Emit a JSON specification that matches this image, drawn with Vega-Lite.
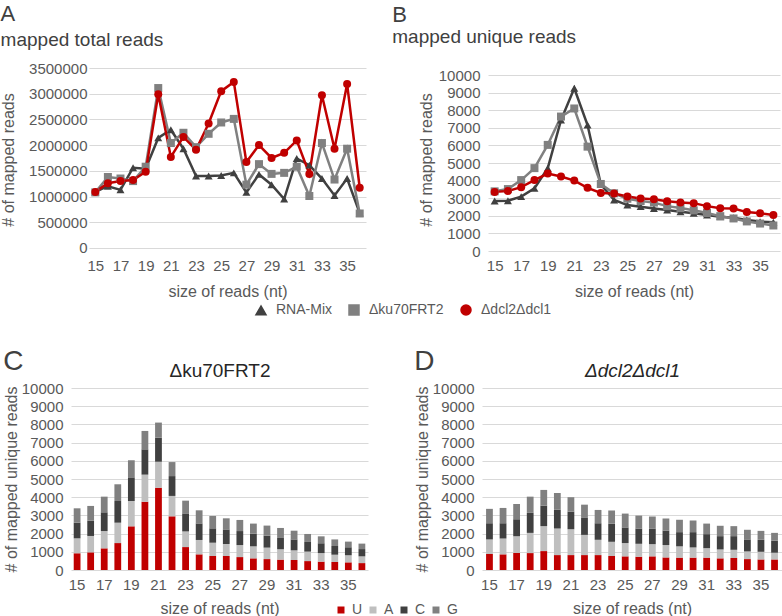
{
  "$schema": "https://vega.github.io/schema/vega-lite/v6.json",
  "padding": {"left": 0, "top": 3, "right": 0, "bottom": 0},
  "background": "white",
  "config": {
    "font": "Liberation Sans",
    "view": {"stroke": null},
    "axis": {"labelColor": "#595959", "titleColor": "#595959", "titleFontWeight": "normal", "labelFontSize": 15, "titleFontSize": 16, "ticks": false, "tickSize": 0, "domain": false, "gridColor": "#D9D9D9", "gridWidth": 1, "labelOverlap": false},
    "axisX": {"grid": false, "labelAngle": 0, "labelPadding": 7, "titlePadding": 10},
    "title": {"fontWeight": "normal", "color": "#404040", "subtitleColor": "#404040"},
    "legend": {"labelColor": "#595959", "padding": 0}
  },
  "datasets": {
    "lines": [
      {"panel": "total", "size": 15, "RNA-Mix": 1090000, "Δku70FRT2": 1080000, "Δdcl2Δdcl1": 1090000},
      {"panel": "total", "size": 16, "RNA-Mix": 1200000, "Δku70FRT2": 1380000, "Δdcl2Δdcl1": 1260000},
      {"panel": "total", "size": 17, "RNA-Mix": 1130000, "Δku70FRT2": 1350000, "Δdcl2Δdcl1": 1300000},
      {"panel": "total", "size": 18, "RNA-Mix": 1560000, "Δku70FRT2": 1300000, "Δdcl2Δdcl1": 1320000},
      {"panel": "total", "size": 19, "RNA-Mix": 1540000, "Δku70FRT2": 1580000, "Δdcl2Δdcl1": 1480000},
      {"panel": "total", "size": 20, "RNA-Mix": 2140000, "Δku70FRT2": 3110000, "Δdcl2Δdcl1": 2990000},
      {"panel": "total", "size": 21, "RNA-Mix": 2300000, "Δku70FRT2": 2040000, "Δdcl2Δdcl1": 1770000},
      {"panel": "total", "size": 22, "RNA-Mix": 1930000, "Δku70FRT2": 2240000, "Δdcl2Δdcl1": 2160000},
      {"panel": "total", "size": 23, "RNA-Mix": 1400000, "Δku70FRT2": 1960000, "Δdcl2Δdcl1": 1910000},
      {"panel": "total", "size": 24, "RNA-Mix": 1400000, "Δku70FRT2": 2220000, "Δdcl2Δdcl1": 2420000},
      {"panel": "total", "size": 25, "RNA-Mix": 1410000, "Δku70FRT2": 2440000, "Δdcl2Δdcl1": 3050000},
      {"panel": "total", "size": 26, "RNA-Mix": 1460000, "Δku70FRT2": 2510000, "Δdcl2Δdcl1": 3230000},
      {"panel": "total", "size": 27, "RNA-Mix": 1080000, "Δku70FRT2": 1230000, "Δdcl2Δdcl1": 1670000},
      {"panel": "total", "size": 28, "RNA-Mix": 1430000, "Δku70FRT2": 1630000, "Δdcl2Δdcl1": 2000000},
      {"panel": "total", "size": 29, "RNA-Mix": 1230000, "Δku70FRT2": 1440000, "Δdcl2Δdcl1": 1750000},
      {"panel": "total", "size": 30, "RNA-Mix": 950000, "Δku70FRT2": 1460000, "Δdcl2Δdcl1": 1850000},
      {"panel": "total", "size": 31, "RNA-Mix": 1740000, "Δku70FRT2": 1580000, "Δdcl2Δdcl1": 2090000},
      {"panel": "total", "size": 32, "RNA-Mix": 1610000, "Δku70FRT2": 1010000, "Δdcl2Δdcl1": 1440000},
      {"panel": "total", "size": 33, "RNA-Mix": 1350000, "Δku70FRT2": 2040000, "Δdcl2Δdcl1": 2970000},
      {"panel": "total", "size": 34, "RNA-Mix": 1020000, "Δku70FRT2": 1330000, "Δdcl2Δdcl1": 1930000},
      {"panel": "total", "size": 35, "RNA-Mix": 1350000, "Δku70FRT2": 1930000, "Δdcl2Δdcl1": 3190000},
      {"panel": "total", "size": 36, "RNA-Mix": 680000, "Δku70FRT2": 670000, "Δdcl2Δdcl1": 1170000},
      {"panel": "unique", "size": 15, "RNA-Mix": 2840, "Δku70FRT2": 3390, "Δdcl2Δdcl1": 3360},
      {"panel": "unique", "size": 16, "RNA-Mix": 2860, "Δku70FRT2": 3520, "Δdcl2Δdcl1": 3410},
      {"panel": "unique", "size": 17, "RNA-Mix": 3090, "Δku70FRT2": 4030, "Δdcl2Δdcl1": 3630},
      {"panel": "unique", "size": 18, "RNA-Mix": 3560, "Δku70FRT2": 4710, "Δdcl2Δdcl1": 4030},
      {"panel": "unique", "size": 19, "RNA-Mix": 4700, "Δku70FRT2": 6030, "Δdcl2Δdcl1": 4400},
      {"panel": "unique", "size": 20, "RNA-Mix": 7440, "Δku70FRT2": 7640, "Δdcl2Δdcl1": 4230},
      {"panel": "unique", "size": 21, "RNA-Mix": 9250, "Δku70FRT2": 8100, "Δdcl2Δdcl1": 4000},
      {"panel": "unique", "size": 22, "RNA-Mix": 7160, "Δku70FRT2": 5930, "Δdcl2Δdcl1": 3590},
      {"panel": "unique", "size": 23, "RNA-Mix": 3790, "Δku70FRT2": 3810, "Δdcl2Δdcl1": 3300},
      {"panel": "unique", "size": 24, "RNA-Mix": 2900, "Δku70FRT2": 3280, "Δdcl2Δdcl1": 3270},
      {"panel": "unique", "size": 25, "RNA-Mix": 2610, "Δku70FRT2": 2970, "Δdcl2Δdcl1": 3100},
      {"panel": "unique", "size": 26, "RNA-Mix": 2520, "Δku70FRT2": 2840, "Δdcl2Δdcl1": 2990},
      {"panel": "unique", "size": 27, "RNA-Mix": 2420, "Δku70FRT2": 2750, "Δdcl2Δdcl1": 2940},
      {"panel": "unique", "size": 28, "RNA-Mix": 2330, "Δku70FRT2": 2550, "Δdcl2Δdcl1": 2830},
      {"panel": "unique", "size": 29, "RNA-Mix": 2230, "Δku70FRT2": 2440, "Δdcl2Δdcl1": 2760},
      {"panel": "unique", "size": 30, "RNA-Mix": 2140, "Δku70FRT2": 2310, "Δdcl2Δdcl1": 2720},
      {"panel": "unique", "size": 31, "RNA-Mix": 2050, "Δku70FRT2": 2160, "Δdcl2Δdcl1": 2550},
      {"panel": "unique", "size": 32, "RNA-Mix": 1950, "Δku70FRT2": 1980, "Δdcl2Δdcl1": 2430},
      {"panel": "unique", "size": 33, "RNA-Mix": 1890, "Δku70FRT2": 1850, "Δdcl2Δdcl1": 2410},
      {"panel": "unique", "size": 34, "RNA-Mix": 1760, "Δku70FRT2": 1680, "Δdcl2Δdcl1": 2210},
      {"panel": "unique", "size": 35, "RNA-Mix": 1670, "Δku70FRT2": 1560, "Δdcl2Δdcl1": 2150},
      {"panel": "unique", "size": 36, "RNA-Mix": 1630, "Δku70FRT2": 1450, "Δdcl2Δdcl1": 2040}
    ],
    "bars": [
      {"strain": "ku70", "size": 15, "U": 920, "A": 820, "C": 860, "G": 790},
      {"strain": "ku70", "size": 16, "U": 970, "A": 900, "C": 840, "G": 810},
      {"strain": "ku70", "size": 17, "U": 1190, "A": 950, "C": 1030, "G": 860},
      {"strain": "ku70", "size": 18, "U": 1480, "A": 1120, "C": 1190, "G": 920},
      {"strain": "ku70", "size": 19, "U": 2400, "A": 1390, "C": 1300, "G": 940},
      {"strain": "ku70", "size": 20, "U": 3750, "A": 1490, "C": 1390, "G": 1010},
      {"strain": "ku70", "size": 21, "U": 4520, "A": 1430, "C": 1320, "G": 830},
      {"strain": "ku70", "size": 22, "U": 2950, "A": 1120, "C": 1090, "G": 770},
      {"strain": "ku70", "size": 23, "U": 1260, "A": 860, "C": 990, "G": 700},
      {"strain": "ku70", "size": 24, "U": 860, "A": 790, "C": 910, "G": 720},
      {"strain": "ku70", "size": 25, "U": 770, "A": 730, "C": 790, "G": 680},
      {"strain": "ku70", "size": 26, "U": 770, "A": 660, "C": 800, "G": 610},
      {"strain": "ku70", "size": 27, "U": 710, "A": 660, "C": 770, "G": 610},
      {"strain": "ku70", "size": 28, "U": 640, "A": 660, "C": 700, "G": 550},
      {"strain": "ku70", "size": 29, "U": 600, "A": 630, "C": 660, "G": 550},
      {"strain": "ku70", "size": 30, "U": 570, "A": 570, "C": 620, "G": 550},
      {"strain": "ku70", "size": 31, "U": 550, "A": 530, "C": 600, "G": 480},
      {"strain": "ku70", "size": 32, "U": 490, "A": 520, "C": 530, "G": 440},
      {"strain": "ku70", "size": 33, "U": 460, "A": 470, "C": 540, "G": 380},
      {"strain": "ku70", "size": 34, "U": 440, "A": 400, "C": 480, "G": 360},
      {"strain": "ku70", "size": 35, "U": 420, "A": 390, "C": 440, "G": 310},
      {"strain": "ku70", "size": 36, "U": 380, "A": 370, "C": 400, "G": 300},
      {"strain": "dcl", "size": 15, "U": 880, "A": 800, "C": 890, "G": 790},
      {"strain": "dcl", "size": 16, "U": 860, "A": 870, "C": 840, "G": 840},
      {"strain": "dcl", "size": 17, "U": 930, "A": 930, "C": 930, "G": 840},
      {"strain": "dcl", "size": 18, "U": 930, "A": 1110, "C": 1100, "G": 890},
      {"strain": "dcl", "size": 19, "U": 1040, "A": 1370, "C": 1130, "G": 860},
      {"strain": "dcl", "size": 20, "U": 820, "A": 1460, "C": 1040, "G": 910},
      {"strain": "dcl", "size": 21, "U": 820, "A": 1420, "C": 970, "G": 790},
      {"strain": "dcl", "size": 22, "U": 820, "A": 1110, "C": 930, "G": 730},
      {"strain": "dcl", "size": 23, "U": 820, "A": 840, "C": 910, "G": 730},
      {"strain": "dcl", "size": 24, "U": 770, "A": 780, "C": 1000, "G": 720},
      {"strain": "dcl", "size": 25, "U": 750, "A": 730, "C": 860, "G": 760},
      {"strain": "dcl", "size": 26, "U": 730, "A": 710, "C": 840, "G": 710},
      {"strain": "dcl", "size": 27, "U": 750, "A": 670, "C": 860, "G": 660},
      {"strain": "dcl", "size": 28, "U": 690, "A": 680, "C": 800, "G": 660},
      {"strain": "dcl", "size": 29, "U": 680, "A": 620, "C": 780, "G": 680},
      {"strain": "dcl", "size": 30, "U": 680, "A": 560, "C": 840, "G": 640},
      {"strain": "dcl", "size": 31, "U": 680, "A": 520, "C": 770, "G": 580},
      {"strain": "dcl", "size": 32, "U": 640, "A": 490, "C": 730, "G": 570},
      {"strain": "dcl", "size": 33, "U": 660, "A": 450, "C": 750, "G": 550},
      {"strain": "dcl", "size": 34, "U": 600, "A": 420, "C": 660, "G": 530},
      {"strain": "dcl", "size": 35, "U": 580, "A": 420, "C": 660, "G": 490},
      {"strain": "dcl", "size": 36, "U": 580, "A": 370, "C": 660, "G": 430}
    ]
  },
  "spacing": 49,
  "center": true,
  "vconcat": [
    {
      "spacing": 26,
      "hconcat": [
        {
          "width": 277,
          "height": 183,
          "title": {"text": "A", "subtitle": "mapped total reads", "anchor": "start", "frame": "bounds", "fontSize": 22, "subtitleFontSize": 19, "subtitlePadding": 5, "offset": 10},
          "data": {"name": "lines"},
          "transform": [
            {"filter": "datum.panel === 'total'"},
            {"fold": ["RNA-Mix", "Δku70FRT2", "Δdcl2Δdcl1"], "as": ["series", "reads"]}
          ],
          "encoding": {
            "x": {"field": "size", "type": "ordinal", "axis": {"values": [15, 17, 19, 21, 23, 25, 27, 29, 31, 33, 35], "title": "size of reads (nt)"}},
            "y": {"field": "reads", "type": "quantitative", "scale": {"domain": [-60000, 3500000], "nice": false, "zero": false}, "axis": {"values": [0, 500000, 1000000, 1500000, 2000000, 2500000, 3000000, 3500000], "format": "d", "title": "# of mapped reads", "labelPadding": 2, "titlePadding": 12}},
            "color": {"field": "series", "type": "nominal", "scale": {"domain": ["RNA-Mix", "Δku70FRT2", "Δdcl2Δdcl1"], "range": ["#404040", "#808080", "#C00000"]},
              "legend": {"orient": "none", "legendX": 183, "legendY": 235, "direction": "horizontal", "title": null, "labelFontSize": 14, "symbolSize": 100, "labelOffset": 8, "columnPadding": 14}}
          },
          "layer": [
            {"mark": {"type": "line", "strokeWidth": 2.5}},
            {
              "mark": {"type": "point", "filled": true, "size": 64, "opacity": 1},
              "encoding": {
                "shape": {"field": "series", "type": "nominal", "scale": {"domain": ["RNA-Mix", "Δku70FRT2", "Δdcl2Δdcl1"], "range": ["triangle-up", "square", "circle"]},
                  "legend": {"orient": "none", "legendX": 183, "legendY": 235, "direction": "horizontal", "title": null, "labelFontSize": 14, "symbolSize": 100, "labelOffset": 8, "columnPadding": 14}}
              }
            }
          ]
        },
        {
          "width": 292,
          "height": 183,
          "title": {"text": "B", "subtitle": "mapped unique reads", "anchor": "start", "frame": "bounds", "fontSize": 22, "subtitleFontSize": 19, "subtitlePadding": 1, "offset": 20, "dx": -26},
          "data": {"name": "lines"},
          "transform": [
            {"filter": "datum.panel === 'unique'"},
            {"fold": ["RNA-Mix", "Δku70FRT2", "Δdcl2Δdcl1"], "as": ["series", "reads"]}
          ],
          "encoding": {
            "x": {"field": "size", "type": "ordinal", "axis": {"values": [15, 17, 19, 21, 23, 25, 27, 29, 31, 33, 35], "title": "size of reads (nt)"}},
            "y": {"field": "reads", "type": "quantitative", "scale": {"domain": [0, 10400], "nice": false}, "axis": {"values": [0, 1000, 2000, 3000, 4000, 5000, 6000, 7000, 8000, 9000, 10000], "format": "d", "title": "# of mapped reads", "labelPadding": 8, "titlePadding": 4}},
            "color": {"field": "series", "type": "nominal", "scale": {"domain": ["RNA-Mix", "Δku70FRT2", "Δdcl2Δdcl1"], "range": ["#404040", "#808080", "#C00000"]}, "legend": null}
          },
          "layer": [
            {"mark": {"type": "line", "strokeWidth": 2.5}},
            {
              "mark": {"type": "point", "filled": true, "size": 64, "opacity": 1},
              "encoding": {
                "shape": {"field": "series", "type": "nominal", "scale": {"domain": ["RNA-Mix", "Δku70FRT2", "Δdcl2Δdcl1"], "range": ["triangle-up", "square", "circle"]}, "legend": null}
              }
            }
          ]
        }
      ]
    },
    {
      "spacing": 46,
      "hconcat": [
        {
          "width": 297,
          "height": 182,
          "title": {"text": "C", "anchor": "start", "frame": "bounds", "fontSize": 28, "offset": 0, "dy": 15},
          "data": {"name": "bars"},
          "transform": [
            {"filter": "datum.strain === 'ku70'"},
            {"fold": ["U", "A", "C", "G"], "as": ["base", "reads"]},
            {"calculate": "indexof(['U','A','C','G'], datum.base)", "as": "stackOrder"}
          ],
          "layer": [
            {
              "mark": {"type": "bar"},
              "encoding": {
                "x": {"field": "size", "type": "ordinal", "scale": {"paddingInner": 0.5, "paddingOuter": 0.2}, "axis": {"orient": "bottom", "values": [15, 17, 19, 21, 23, 25, 27, 29, 31, 33, 35], "title": "size of reads (nt)", "titlePadding": 8}},
                "y": {"field": "reads", "type": "quantitative", "stack": "zero", "scale": {"domain": [0, 10000], "nice": false}, "axis": {"values": [0, 1000, 2000, 3000, 4000, 5000, 6000, 7000, 8000, 9000, 10000], "format": "d", "title": "# of mapped unique reads", "labelPadding": 8, "titlePadding": 2}},
                "fill": {"field": "base", "type": "nominal", "scale": {"domain": ["U", "A", "C", "G"], "range": ["#C00000", "#BFBFBF", "#404040", "#808080"]},
                  "legend": {"orient": "none", "legendX": 263, "legendY": 535, "direction": "horizontal", "title": null, "symbolType": "square", "symbolSize": 49, "labelFontSize": 14, "labelOffset": 4, "columnPadding": 3, "symbolStrokeWidth": 0}},
                "order": {"field": "stackOrder", "type": "quantitative"}
              }
            },
            {
              "mark": {"type": "tick", "opacity": 0},
              "encoding": {
                "x": {"field": "size", "type": "ordinal", "axis": {"orient": "top", "title": "Δku70FRT2", "labels": false, "grid": false, "titleFontSize": 19, "titleColor": "#262626", "titlePadding": 8}}
              }
            }
          ]
        },
        {
          "width": 300,
          "height": 182,
          "title": {"text": "D", "anchor": "start", "frame": "bounds", "fontSize": 28, "offset": 0, "dy": 15},
          "data": {"name": "bars"},
          "transform": [
            {"filter": "datum.strain === 'dcl'"},
            {"fold": ["U", "A", "C", "G"], "as": ["base", "reads"]},
            {"calculate": "indexof(['U','A','C','G'], datum.base)", "as": "stackOrder"}
          ],
          "layer": [
            {
              "mark": {"type": "bar"},
              "encoding": {
                "x": {"field": "size", "type": "ordinal", "scale": {"paddingInner": 0.5, "paddingOuter": 0.3}, "axis": {"orient": "bottom", "values": [15, 17, 19, 21, 23, 25, 27, 29, 31, 33, 35], "title": "size of reads (nt)", "titlePadding": 8}},
                "y": {"field": "reads", "type": "quantitative", "stack": "zero", "scale": {"domain": [0, 10000], "nice": false}, "axis": {"orient": "left", "values": [0, 1000, 2000, 3000, 4000, 5000, 6000, 7000, 8000, 9000, 10000], "format": "d", "title": "# of mapped unique reads", "labelPadding": 8, "titlePadding": 2}},
                "fill": {"field": "base", "type": "nominal", "scale": {"domain": ["U", "A", "C", "G"], "range": ["#C00000", "#BFBFBF", "#404040", "#808080"]}, "legend": null},
                "order": {"field": "stackOrder", "type": "quantitative"}
              }
            },
            {
              "mark": {"type": "tick", "opacity": 0},
              "encoding": {
                "x": {"field": "size", "type": "ordinal", "axis": {"orient": "top", "title": "Δdcl2Δdcl1", "labels": false, "grid": false, "titleFontSize": 19, "titleFontStyle": "italic", "titleColor": "#262626", "titlePadding": 8}},
                "y": {"field": "reads", "type": "quantitative", "axis": {"orient": "right", "labels": false, "grid": false, "title": "\u00a0", "titleFontSize": 16, "titlePadding": 0}}
              }
            }
          ]
        }
      ]
    }
  ]
}
